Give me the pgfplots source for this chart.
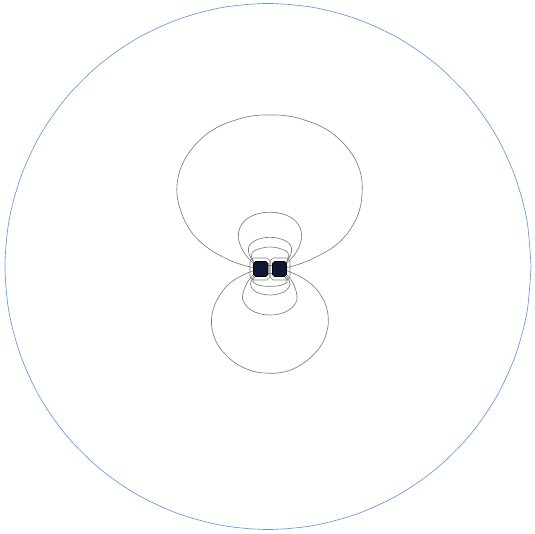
\documentclass[border=0pt]{standalone}
\usepackage{pgfplots}
\pgfplotsset{compat=1.18}
\definecolor{rim}{RGB}{100,150,225}
\definecolor{ctr}{RGB}{125,125,125}
\definecolor{cond}{RGB}{14,24,52}
\begin{document}
\begin{tikzpicture}
\begin{axis}[
  scale only axis, width=535pt, height=534pt,
  xmin=0, xmax=535, ymin=0, ymax=534, y dir=reverse,
  hide axis, clip=false, no marks,
  every axis plot/.append style={line width=0.65pt, smooth, tension=0.7}
]
\path (rel axis cs:0,0) rectangle (rel axis cs:1,1);
% outer boundary
\addplot[rim, tension=0.5] coordinates {
 (531,266.5) (527.0,312.2) (515.1,356.4) (495.8,398.0) (469.5,435.6) (437.1,468.0)
 (399.5,494.3) (357.9,513.6) (313.7,525.5) (268,529.5) (222.3,525.5) (178.1,513.6)
 (136.5,494.3) (98.9,468.0) (66.5,435.6) (40.2,398.0) (20.9,356.4) (9.0,312.2)
 (5,266.5) (9.0,220.8) (20.9,176.6) (40.2,135.0) (66.5,97.4) (98.9,65.0)
 (136.5,38.7) (178.1,19.4) (222.3,7.5) (268,3.5) (313.7,7.5) (357.9,19.4)
 (399.5,38.7) (437.1,65.0) (469.5,97.4) (495.8,135.0) (515.1,176.6) (527.0,220.8)
 (531,266.5)
};
% upper contours
\addplot[ctr] coordinates {
 (255,268) (238,263.5) (222,256.5) (208,248) (196,237.5) (187,225) (180.5,210)
 (177,194) (178,178) (183,163) (191,150) (202,138) (216,128) (234,120.5) (252,116)
 (270,115) (288,116) (306,120.5) (324,128) (338,138) (349,150) (357,163) (361.5,178)
 (362,194) (359.5,210) (353,225) (344,237.5) (332,248) (317,256.5) (301,263.5) (285,268)
};
\addplot[ctr] coordinates {
 (254,264) (245,254) (239.5,243) (238.5,233) (242,224) (249,217.5) (259,213.5)
 (270,212.3) (281,213.5) (291,217.5) (298,224) (301.5,233) (300.5,243) (295,254) (286,264)
};
\addplot[ctr] coordinates {
 (254,263) (249.5,255) (248.5,248) (252,242.5) (260,238.7) (270,237.3) (280,238.7)
 (288,242.5) (291.5,248) (290.5,255) (286,263)
};
\addplot[ctr] coordinates {
 (254,262) (251.5,256) (255,250.5) (270,247) (285,250.5) (288.5,256) (286,262)
};
% lower contours
\addplot[ctr] coordinates {
 (255,270) (241,276) (229,284) (220,295) (214,307) (211.5,320) (213,333) (218,345)
 (226,355) (236,363.5) (248,369.5) (260,372.7) (270,373.3) (281,372.5) (293,369)
 (305,362) (315,353) (322.5,343) (327,331) (328.3,319) (326,306) (320,294) (311,284)
 (299,276) (285,270)
};
\addplot[ctr] coordinates {
 (254,274) (247,283) (242.5,296) (245,304) (251,310) (260,313.8) (270,315) (280,313.8)
 (289,310) (295,304) (297,296) (293,283) (286,274)
};
\addplot[ctr] coordinates {
 (254,276) (250.5,284) (254,290.5) (261,293.8) (270,295) (279,293.8) (286,290.5)
 (290,284) (286,276)
};
\addplot[ctr] coordinates {
 (255,277) (253,282) (260,285.5) (270,286.3) (280,285.5) (287,282) (285,277)
};
% rings round each conductor
\addplot[ctr, sharp plot] coordinates {
 (253,258) (267,258) (270,261) (270,277) (267,280) (253,280) (250,277) (250,261) (253,258)
};
\addplot[ctr, sharp plot] coordinates {
 (273,258) (287,258) (290,261) (290,277) (287,280) (273,280) (270,277) (270,261) (273,258)
};
\addplot[ctr, sharp plot] coordinates {
 (267.5,265) (272.5,265) (272.5,273) (267.5,273) (267.5,265)
};
% conductors
\addplot[sharp plot, draw=black, line width=0.6pt, fill=cond] coordinates {
 (255.5,261.5) (266,261.5) (268,263.5) (268,274.5) (266,276.5) (255.5,276.5)
 (253.5,274.5) (253.5,263.5) (255.5,261.5)
};
\addplot[sharp plot, draw=black, line width=0.6pt, fill=cond] coordinates {
 (274.5,261.5) (284.5,261.5) (286.5,263.5) (286.5,274.5) (284.5,276.5) (274.5,276.5)
 (272.5,274.5) (272.5,263.5) (274.5,261.5)
};
\end{axis}
\end{tikzpicture}
\end{document}
